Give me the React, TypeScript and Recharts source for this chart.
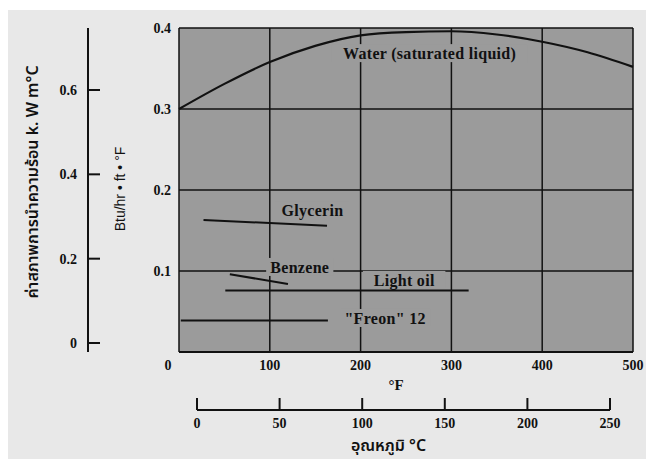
import React from "react";
import { LineChart, Line, XAxis, YAxis, CartesianGrid, ReferenceDot } from "recharts";

// temperature ticks (°F and °C) and conductivity ticks (Btu/hr·ft·°F and W/m°C)
const fTicks = [0, 100, 200, 300, 400, 500];
const btuTicks = [0.1, 0.2, 0.3, 0.4];
const siTicks = [0, 0.2, 0.4, 0.6];
const cTicks = [0, 50, 100, 150, 200, 250];

// conductivity, Btu/hr·ft·°F vs °F
const water = [
  { f: 0, k: 0.3 },
  { f: 50, k: 0.331 },
  { f: 100, k: 0.358 },
  { f: 150, k: 0.378 },
  { f: 200, k: 0.391 },
  { f: 250, k: 0.395 },
  { f: 300, k: 0.396 },
  { f: 350, k: 0.392 },
  { f: 400, k: 0.383 },
  { f: 450, k: 0.37 },
  { f: 500, k: 0.352 },
];
const glycerin = [
  { f: 27, k: 0.163 },
  { f: 163, k: 0.156 },
];
const benzene = [
  { f: 56, k: 0.096 },
  { f: 120, k: 0.084 },
];
const lightOil = [
  { f: 51, k: 0.076 },
  { f: 319, k: 0.076 },
];
const freon = [
  { f: 2, k: 0.039 },
  { f: 164, k: 0.039 },
];

const labels = [
  { text: "Water (saturated liquid)", f: 276, k: 0.369 },
  { text: "Glycerin", f: 147, k: 0.175 },
  { text: "Benzene", f: 133, k: 0.105 },
  { text: "Light oil", f: 248, k: 0.089 },
  { text: "\"Freon\" 12", f: 227, k: 0.042 },
];

const serif = "'Liberation Serif', 'Times New Roman', serif";
const narrow = "'Liberation Sans Narrow', 'Arial Narrow', 'Liberation Sans', sans-serif";
const thai = "'Noto Sans Thai', 'Loma', 'Garuda', 'Noto Sans', sans-serif";
const plotFill = "#9b9b9b";
const ink = "#111";
const tickStyle = { fontFamily: serif, fontWeight: 700, fontSize: 14, fill: ink };

const FTick = (props: any) => {
  const { x, y, payload } = props;
  const dx = payload.value === 0 ? -11 : 0;
  return (
    <text x={x + dx} y={y} dy="0.71em" textAnchor="middle" style={tickStyle}>
      {payload.value}
    </text>
  );
};

const BtuTick = (props: any) => {
  const { x, y, payload } = props;
  return (
    <text x={x} y={y} dy="0.36em" textAnchor="end" style={tickStyle}>
      {payload.value.toFixed(1)}
    </text>
  );
};

const SiTick = (props: any) => {
  const { x, y, payload } = props;
  return (
    <g>
      <line x1={x + 8} x2={x + 20} y1={y} y2={y} stroke={ink} strokeWidth={2} />
      <text x={x - 3} y={y} dy="0.36em" textAnchor="end" style={tickStyle}>
        {payload.value === 0 ? "0" : payload.value.toFixed(1)}
      </text>
    </g>
  );
};

const CTick = (props: any) => {
  const { x, y, payload } = props;
  return (
    <g>
      <line x1={x} x2={x} y1={y - 8} y2={y - 20} stroke={ink} strokeWidth={2} />
      <text x={x} y={y} dy="0.71em" textAnchor="middle" style={tickStyle}>
        {payload.value}
      </text>
    </g>
  );
};

const CurveLabel = (props: any) => {
  const { viewBox, value } = props;
  const cx = viewBox.x + (viewBox.width || 0) / 2;
  const cy = viewBox.y + (viewBox.height || 0) / 2;
  const w = value.length * 7.6 + 14;
  return (
    <g>
      <rect x={cx - w / 2} y={cy - 9} width={w} height={18} fill={plotFill} />
      <text
        x={cx}
        y={cy}
        dy="0.35em"
        textAnchor="middle"
        style={{ fontFamily: serif, fontWeight: 700, fontSize: 16, fill: ink, letterSpacing: 0.3 }}
      >
        {value}
      </text>
    </g>
  );
};

export default function App() {
  return (
    <div style={{ position: "absolute", left: 0, top: 0, width: 646, height: 459, background: "#fff", overflow: "hidden" }}>
      <div style={{ position: "absolute", left: 8, top: 10, right: 0, bottom: 0, background: "#e8e8e8" }} />
      <div style={{ position: "absolute", left: 0, top: 0 }}>
        <LineChart width={646} height={459} margin={{ top: 28, right: 13, left: 0, bottom: 49 }}>
          <CartesianGrid stroke={ink} strokeWidth={1.5} fill={plotFill} fillOpacity={1} />
          <XAxis
            dataKey="f"
            type="number"
            domain={[0, 500]}
            ticks={fTicks}
            height={58}
            axisLine={{ stroke: ink, strokeWidth: 2 }}
            tickLine={false}
            tick={<FTick />}
            label={{ value: "°F", position: "insideBottom", offset: 20, dx: -10, style: { ...tickStyle, fontSize: 15 } }}
          />
          <YAxis
            yAxisId="w"
            orientation="left"
            type="number"
            domain={[-0.0213, 0.747]}
            allowDataOverflow
            ticks={siTicks}
            width={88}
            axisLine={{ stroke: ink, strokeWidth: 2 }}
            tickLine={false}
            tick={<SiTick />}
            label={{
              content: (p: any) => (
                <text
                  transform={`translate(${p.viewBox.x + 34}, 182) rotate(-90)`}
                  textAnchor="middle"
                  dominantBaseline="middle"
                  style={{ fontFamily: thai, fontWeight: 600, fontSize: 16, fill: ink }}
                >
                  ค่าสภาพการนำความร้อน k. W m°C
                </text>
              ),
            }}
          />
          <YAxis
            type="number"
            domain={[0, 0.4]}
            ticks={btuTicks}
            width={91}
            axisLine={false}
            tickLine={false}
            tick={<BtuTick />}
            label={{
              content: (p: any) => (
                <text
                  transform={`translate(${p.viewBox.x + 33}, 189) rotate(-90)`}
                  textAnchor="middle"
                  dominantBaseline="middle"
                  style={{ fontFamily: narrow, fontSize: 14, fill: ink }}
                >
                  Btu/hr • ft • °F
                </text>
              ),
            }}
          />
          <Line data={water} dataKey="k" type="monotone" stroke={ink} strokeWidth={2.2} dot={false} isAnimationActive={false} />
          <Line data={glycerin} dataKey="k" stroke={ink} strokeWidth={2} dot={false} isAnimationActive={false} />
          <Line data={benzene} dataKey="k" stroke={ink} strokeWidth={2} dot={false} isAnimationActive={false} />
          <Line data={lightOil} dataKey="k" stroke={ink} strokeWidth={2} dot={false} isAnimationActive={false} />
          <Line data={freon} dataKey="k" stroke={ink} strokeWidth={2} dot={false} isAnimationActive={false} />
          {labels.map((l) => (
            <ReferenceDot
              key={l.text}
              x={l.f}
              y={l.k}
              r={0}
              stroke="none"
              fill="none"
              label={<CurveLabel value={l.text} />}
            />
          ))}
        </LineChart>
      </div>
      <div style={{ position: "absolute", left: 0, top: 0, pointerEvents: "none" }}>
        <LineChart width={646} height={459} margin={{ top: 0, right: 36, left: 197, bottom: 0 }}>
          <XAxis
            dataKey="c"
            type="number"
            domain={[0, 250]}
            allowDataOverflow
            ticks={cTicks}
            height={49}
            axisLine={{ stroke: ink, strokeWidth: 2 }}
            tickLine={false}
            tick={<CTick />}
            label={{
              content: (p: any) => (
                <text
                  x={p.viewBox.x + p.viewBox.width / 2 - 15}
                  y={447}
                  textAnchor="middle"
                  dominantBaseline="middle"
                  style={{ fontFamily: thai, fontWeight: 600, fontSize: 16, fill: ink }}
                >
                  อุณหภูมิ  °C
                </text>
              ),
            }}
          />
          <YAxis hide />
        </LineChart>
      </div>
    </div>
  );
}
